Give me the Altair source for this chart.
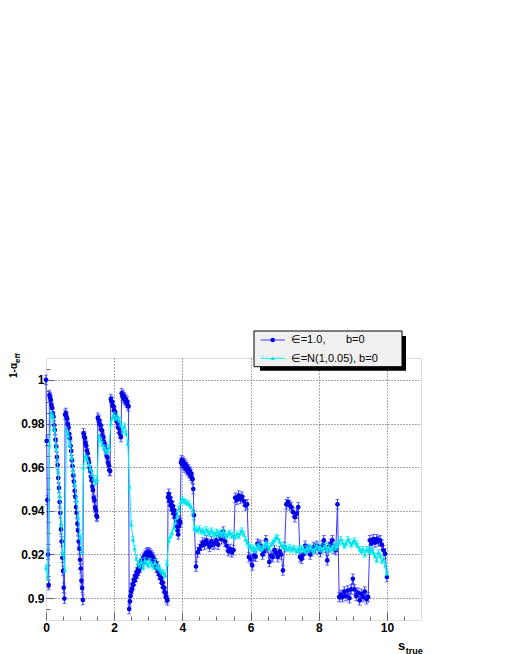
import altair as alt
import pandas as pd

# ---------------- data ----------------
# series 1: eps = 1.0, b = 0  (blue, circles)
BLUE_A_START, BLUE_A_STEP = 0.0, 0.02      # s_true = 0.00 ... 4.34
BLUE_A = [
    1.0000, 0.9720, 0.9450, 0.9200, 0.9060, 0.9930, 0.9920, 0.9908, 0.9885, 0.9872,
    0.9846, 0.9830, 0.9792, 0.9770, 0.9726, 0.9695, 0.9646, 0.9610, 0.9550, 0.9505,
    0.9440, 0.9390, 0.9315, 0.9260, 0.9185, 0.9125, 0.9048, 0.8998, 0.9840, 0.9848,
    0.9832, 0.9822, 0.9798, 0.9783, 0.9752, 0.9733, 0.9698, 0.9674, 0.9632, 0.9604,
    0.9562, 0.9534, 0.9492, 0.9465, 0.9417, 0.9390, 0.9341, 0.9310, 0.9260, 0.9226,
    0.9176, 0.9136, 0.9080, 0.9046, 0.8992, 0.9755, 0.9742, 0.9733, 0.9711, 0.9698,
    0.9676, 0.9664, 0.9636, 0.9624, 0.9596, 0.9584, 0.9556, 0.9540, 0.9510, 0.9495,
    0.9460, 0.9448, 0.9415, 0.9403, 0.9378, 0.9372, 0.9826, 0.9817, 0.9812, 0.9797,
    0.9792, 0.9772, 0.9768, 0.9746, 0.9738, 0.9716, 0.9708, 0.9686, 0.9678, 0.9651,
    0.9644, 0.9620, 0.9610, 0.9586, 0.9582, 0.9912, 0.9902, 0.9898, 0.9881, 0.9878,
    0.9860, 0.9853, 0.9835, 0.9829, 0.9810, 0.9804, 0.9781, 0.9778, 0.9756, 0.9752,
    0.9738, 0.9938, 0.9926, 0.9930, 0.9915, 0.9920, 0.9906, 0.9910, 0.9895, 0.9900,
    0.9884, 0.9878, 0.8950, 0.8985, 0.9010, 0.9030, 0.9042, 0.9065, 0.9060, 0.9085,
    0.9080, 0.9102, 0.9098, 0.9118, 0.9112, 0.9132, 0.9125, 0.9148, 0.9140, 0.9160,
    0.9155, 0.9172, 0.9166, 0.9185, 0.9178, 0.9195, 0.9188, 0.9205, 0.9196, 0.9210,
    0.9200, 0.9208, 0.9196, 0.9204, 0.9190, 0.9196, 0.9180, 0.9186, 0.9168, 0.9172,
    0.9155, 0.9160, 0.9140, 0.9146, 0.9125, 0.9128, 0.9108, 0.9110, 0.9090, 0.9092,
    0.9070, 0.9072, 0.9050, 0.9048, 0.9028, 0.9024, 0.9006, 0.9000, 0.8990, 0.9462,
    0.9478, 0.9445, 0.9460, 0.9425, 0.9440, 0.9405, 0.9422, 0.9388, 0.9402, 0.9370,
    0.9385, 0.9350, 0.9330, 0.9310, 0.9292, 0.9330, 0.9355, 0.9345, 0.9620, 0.9632,
    0.9615, 0.9625, 0.9605, 0.9618, 0.9598, 0.9610, 0.9590, 0.9600, 0.9582, 0.9590,
    0.9572, 0.9580, 0.9562, 0.9570, 0.9552, 0.9545, 0.9500, 0.9380,
]
BLUE_B_START, BLUE_B_STEP = 4.40, 0.05     # s_true = 4.40 ... 10.00
BLUE_B = [
    0.9145, 0.9210, 0.9225, 0.9240, 0.9255, 0.9245, 0.9265, 0.9250, 0.9235, 0.9260,
    0.9245, 0.9250, 0.9265, 0.9245, 0.9285, 0.9270, 0.9305, 0.9260, 0.9240, 0.9215,
    0.9225, 0.9210, 0.9220, 0.9460, 0.9450, 0.9470, 0.9455, 0.9465, 0.9445, 0.9425,
    0.9430, 0.9188, 0.9180, 0.9150, 0.9195, 0.9190, 0.9249, 0.9245, 0.9240, 0.9200,
    0.9215, 0.9265, 0.9230, 0.9166, 0.9195, 0.9188, 0.9220, 0.9205, 0.9188, 0.9215,
    0.9200, 0.9127, 0.9234, 0.9430, 0.9440, 0.9425, 0.9417, 0.9394, 0.9371, 0.9387,
    0.9417, 0.9188, 0.9180, 0.9200, 0.9240, 0.9225, 0.9220, 0.9200, 0.9215, 0.9234,
    0.9228, 0.9240, 0.9225, 0.9211, 0.9240, 0.9265, 0.9230, 0.9173, 0.9235, 0.9249,
    0.9265, 0.9227, 0.9220, 0.9430, 0.9005, 0.9015, 0.9005, 0.9030, 0.9010, 0.9035,
    0.9000, 0.9040, 0.9089, 0.9040, 0.9010, 0.9025, 0.8990, 0.9020, 0.9005, 0.9030,
    0.8995, 0.9005, 0.9265, 0.9250, 0.9270, 0.9255, 0.9270, 0.9260, 0.9265, 0.9245,
    0.9219, 0.9203, 0.9097,
]
BLUE_ERR = 0.0022

# series 2: eps = N(1, 0.05), b = 0  (cyan, triangles)
CYAN_START, CYAN_STEP = 0.0, 0.05          # s_true = 0.00 ... 10.00
CYAN = [
    0.9140, 0.9095, 0.9700, 0.9845, 0.9835, 0.9775, 0.9690, 0.9585, 0.9470, 0.9340,
    0.9205, 0.9130, 0.9770, 0.9750, 0.9705, 0.9645, 0.9585, 0.9520, 0.9450, 0.9370,
    0.9280, 0.9215, 0.9600, 0.9650, 0.9640, 0.9615, 0.9595, 0.9570, 0.9550, 0.9530,
    0.9545, 0.9740, 0.9725, 0.9705, 0.9690, 0.9680, 0.9670, 0.9690, 0.9800, 0.9830,
    0.9840, 0.9825, 0.9830, 0.9815, 0.9795, 0.9765, 0.9790, 0.9755, 0.9710, 0.9510,
    0.9340, 0.9270, 0.9228, 0.9185, 0.9160, 0.9150, 0.9170, 0.9140, 0.9175, 0.9160,
    0.9150, 0.9170, 0.9155, 0.9145, 0.9165, 0.9145, 0.9140, 0.9130, 0.9120, 0.9115,
    0.9105, 0.9160, 0.9265, 0.9285, 0.9300, 0.9325, 0.9350, 0.9380, 0.9410, 0.9440,
    0.9455, 0.9445, 0.9440, 0.9435, 0.9430, 0.9420, 0.9400, 0.9320, 0.9315, 0.9310,
    0.9320, 0.9305, 0.9310, 0.9300, 0.9315, 0.9305, 0.9295, 0.9310, 0.9300, 0.9290,
    0.9305, 0.9295, 0.9300, 0.9290, 0.9305, 0.9295, 0.9285, 0.9295, 0.9300, 0.9285,
    0.9290, 0.9280, 0.9295, 0.9285, 0.9300, 0.9310, 0.9295, 0.9270, 0.9255, 0.9240,
    0.9235, 0.9225, 0.9230, 0.9220, 0.9235, 0.9240, 0.9225, 0.9230, 0.9240, 0.9250,
    0.9240, 0.9230, 0.9245, 0.9255, 0.9265, 0.9280, 0.9275, 0.9260, 0.9245, 0.9235,
    0.9240, 0.9230, 0.9225, 0.9235, 0.9220, 0.9230, 0.9225, 0.9215, 0.9225, 0.9220,
    0.9230, 0.9225, 0.9215, 0.9230, 0.9220, 0.9235, 0.9225, 0.9215, 0.9230, 0.9240,
    0.9225, 0.9235, 0.9220, 0.9230, 0.9240, 0.9225, 0.9235, 0.9220, 0.9230, 0.9240,
    0.9230, 0.9245, 0.9255, 0.9270, 0.9255, 0.9240, 0.9250, 0.9270, 0.9260, 0.9245,
    0.9255, 0.9265, 0.9250, 0.9240, 0.9225, 0.9215, 0.9225, 0.9200, 0.9225, 0.9220,
    0.9215, 0.9225, 0.9210, 0.9195, 0.9175, 0.9210, 0.9195, 0.9170, 0.9180, 0.9150,
    0.9115,
]
CYAN_ERR = 0.0012

X_MAJOR = [0, 2, 4, 6, 8, 10]
X_MINOR = [0.5, 1, 1.5, 2.5, 3, 3.5, 4.5, 5, 5.5, 6.5, 7, 7.5, 8.5, 9, 9.5, 10.5]
X_GRID = [2, 4, 6, 8, 10]
Y_MAJOR = [0.90, 0.92, 0.94, 0.96, 0.98, 1.00]
Y_MINOR = [0.895, 0.905, 0.91, 0.915, 0.925, 0.93, 0.935, 0.945, 0.95, 0.955,
           0.965, 0.97, 0.975, 0.985, 0.99, 0.995, 1.005]
LEGEND_1 = ["∈=1.0,", "b=0"]
LEGEND_2 = ["∈=N(1,0.05), b=0"]
Y_TITLE, Y_TITLE_SUB = "1-α", "eff"
X_TITLE, X_TITLE_SUB = "s", "true"

BLUE_LINE = "#3a3aff"
BLUE_MARK = "#0000e6"
CYAN_LINE = "#00f2f2"
CYAN_MARK = "#00e0e8"
FONT = "Liberation Sans"


def series(start, step, values, err):
    xs = [round(start + step * i, 3) for i in range(len(values))]
    return pd.DataFrame({
        "s": xs,
        "v": values,
        "lo": [round(v - err, 5) for v in values],
        "hi": [round(v + err, 5) for v in values],
    })


blue = pd.concat([series(BLUE_A_START, BLUE_A_STEP, BLUE_A, BLUE_ERR),
                  series(BLUE_B_START, BLUE_B_STEP, BLUE_B, BLUE_ERR)],
                 ignore_index=True)
cyan = series(CYAN_START, CYAN_STEP, CYAN, CYAN_ERR)

XS = alt.Scale(domain=[0, 11], nice=False, zero=False)
YS = alt.Scale(domain=[0.89, 1.01], nice=False, zero=False)


def ax(**kw):
    base = dict(title="", labels=False, ticks=False, domain=False, grid=False)
    base.update(kw)
    return alt.Axis(**base)


AX_X_LABELS = ax(orient="bottom", labels=True, values=X_MAJOR, tickSize=0, labelPadding=2,
                 labelFont=FONT, labelFontSize=12, labelFontWeight="bold",
                 labelColor="black", labelFlush=False)
AX_Y_LABELS = ax(orient="left", labels=True, values=Y_MAJOR, format="~g", tickSize=0,
                 labelPadding=2, labelFont=FONT, labelFontSize=12,
                 labelFontWeight="bold", labelColor="black", labelFlush=False)
AX_X_MAJ = ax(orient="bottom", values=X_MAJOR, ticks=True, tickSize=8, offset=-8,
              tickColor="#666666", tickWidth=1)
AX_Y_MAJ = ax(orient="left", values=Y_MAJOR, ticks=True, tickSize=8, offset=-8,
              tickColor="#666666", tickWidth=1)
AX_X_MIN = ax(orient="bottom", values=X_MINOR, ticks=True, tickSize=4, offset=-4,
              tickColor="#666666", tickWidth=1)
AX_Y_MIN = ax(orient="left", values=Y_MINOR, ticks=True, tickSize=4, offset=-4,
              tickColor="#666666", tickWidth=1)
AX_X_GRID = ax(orient="bottom", values=X_GRID, grid=True, gridDash=[1, 2],
               gridColor="#555555", gridWidth=1)
AX_Y_GRID = ax(orient="left", values=Y_MAJOR, grid=True, gridDash=[1, 2],
               gridColor="#555555", gridWidth=1)

# ---------------- data layers ----------------
blue_line = alt.Chart(blue).mark_line(color=BLUE_LINE, strokeWidth=1).encode(
    x=alt.X("s:Q", scale=XS, axis=AX_X_LABELS),
    y=alt.Y("v:Q", scale=YS, axis=AX_Y_LABELS),
)
blue_err = alt.Chart(blue).mark_rule(color=BLUE_LINE, strokeWidth=1).encode(
    x=alt.X("s:Q", scale=XS, axis=AX_X_MAJ),
    y=alt.Y("lo:Q", scale=YS, axis=AX_Y_MAJ),
    y2="hi:Q",
)
blue_cap_lo = alt.Chart(blue).mark_tick(color=BLUE_LINE, orient="horizontal", size=4,
                                        thickness=1).encode(
    x=alt.X("s:Q", scale=XS, axis=AX_X_MIN),
    y=alt.Y("lo:Q", scale=YS, axis=AX_Y_MIN),
)
blue_cap_hi = alt.Chart(blue).mark_tick(color=BLUE_LINE, orient="horizontal", size=4,
                                        thickness=1).encode(
    x=alt.X("s:Q", scale=XS, axis=AX_X_GRID),
    y=alt.Y("hi:Q", scale=YS, axis=AX_Y_GRID),
)
blue_pts = alt.Chart(blue).mark_point(filled=True, shape="circle", size=22,
                                      color=BLUE_MARK, opacity=1).encode(
    x=alt.X("s:Q", scale=XS, axis=None),
    y=alt.Y("v:Q", scale=YS, axis=None),
)

cyan_line = alt.Chart(cyan).mark_line(color=CYAN_LINE, strokeWidth=1).encode(
    x=alt.X("s:Q", scale=XS, axis=None),
    y=alt.Y("v:Q", scale=YS, axis=None),
)
cyan_err = alt.Chart(cyan).mark_rule(color=CYAN_LINE, strokeWidth=1).encode(
    x=alt.X("s:Q", scale=XS, axis=None),
    y=alt.Y("lo:Q", scale=YS, axis=None),
    y2="hi:Q",
)
cyan_cap_lo = alt.Chart(cyan).mark_tick(color=CYAN_LINE, orient="horizontal", size=4,
                                        thickness=1).encode(
    x=alt.X("s:Q", scale=XS, axis=None),
    y=alt.Y("lo:Q", scale=YS, axis=None),
)
cyan_cap_hi = alt.Chart(cyan).mark_tick(color=CYAN_LINE, orient="horizontal", size=4,
                                        thickness=1).encode(
    x=alt.X("s:Q", scale=XS, axis=None),
    y=alt.Y("hi:Q", scale=YS, axis=None),
)
cyan_pts = alt.Chart(cyan).mark_point(filled=True, shape="triangle-up", size=16,
                                      color=CYAN_MARK, opacity=1).encode(
    x=alt.X("s:Q", scale=XS, axis=None),
    y=alt.Y("v:Q", scale=YS, axis=None),
)

# ---------------- legend and titles ----------------
one = pd.DataFrame({"k": [0]})


def txt(text, x, y, size, weight="normal", angle=0):
    kw = dict(align="left", baseline="alphabetic", font=FONT, fontSize=size,
              fontWeight=weight, color="black")
    if angle:
        kw["angle"] = angle
    return alt.Chart(pd.DataFrame({"t": [text]})).mark_text(**kw).encode(
        text="t:N", x=alt.value(x), y=alt.value(y))


leg_shadow = alt.Chart(one).mark_rect(color="black").encode(
    x=alt.value(214), x2=alt.value(360), y=alt.value(-22), y2=alt.value(12.7))
leg_box = alt.Chart(one).mark_rect(fill="#f0f0f0", stroke="black", strokeWidth=1).encode(
    x=alt.value(208), x2=alt.value(356), y=alt.value(-27), y2=alt.value(8.7))
leg_l1 = alt.Chart(one).mark_rule(color=BLUE_LINE, strokeWidth=1).encode(
    x=alt.value(214.7), x2=alt.value(239), y=alt.value(-18))
leg_m1 = alt.Chart(one).mark_point(filled=True, shape="circle", size=20, color=BLUE_MARK,
                                   opacity=1).encode(x=alt.value(226.7), y=alt.value(-18))
leg_l2 = alt.Chart(one).mark_rule(color=CYAN_LINE, strokeWidth=1).encode(
    x=alt.value(214.7), x2=alt.value(239), y=alt.value(0.3))
leg_m2 = alt.Chart(one).mark_point(filled=True, shape="triangle-up", size=16,
                                   color=CYAN_MARK, opacity=1).encode(
    x=alt.value(226.7), y=alt.value(0.3))

layers = [
    blue_line, blue_err, blue_cap_lo, blue_cap_hi, blue_pts,
    cyan_line, cyan_err, cyan_cap_lo, cyan_cap_hi, cyan_pts,
    leg_shadow, leg_box, leg_l1, leg_m1, leg_l2, leg_m2,
    txt(LEGEND_1[0], 244.7, -14.7, 11),
    txt(LEGEND_1[1], 300, -14.7, 11),
    txt(LEGEND_2[0], 244.7, 3.7, 11),
    txt(Y_TITLE, -29, 20, 10, "bold", 270),
    txt(Y_TITLE_SUB, -26, 5, 8, "bold", 270),
    txt(X_TITLE, 352, 292, 13, "bold"),
    txt(X_TITLE_SUB, 359.7, 295.5, 9, "bold"),
]

chart = alt.layer(*layers).resolve_axis(x="independent", y="independent").properties(
    width=375, height=262,
    padding={"left": 38, "top": 350, "right": 76, "bottom": 34},
    autosize=alt.AutoSizeParams(type="none"),
).configure_view(stroke="#777777", strokeWidth=1).configure(font=FONT)

chart.save("out.html", embed_options={"renderer": "svg", "actions": False})
